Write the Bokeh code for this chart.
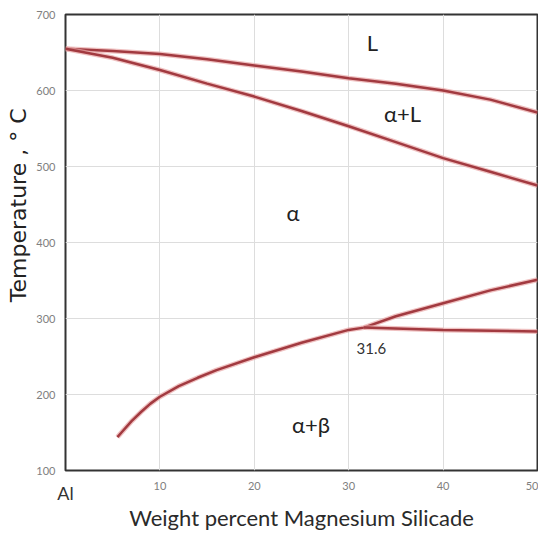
from bokeh.plotting import figure
from bokeh.models import Label, FixedTicker, Range1d, Title, LinearAxis
from bokeh.embed import file_html
from bokeh.resources import INLINE

# Data (Al - Mg2Si)
liquidus_x = [0, 5, 10, 15, 20, 25, 30, 35, 40, 45, 50]
liquidus_y = [655, 652, 648, 641, 633, 625, 616, 609, 600, 588, 571]

solidus_x = [0, 5, 10, 15, 20, 25, 30, 35, 40, 45, 50]
solidus_y = [655, 643, 627, 609, 592, 573, 553, 532, 511, 493, 475]

solvus_x = [5.5, 6, 7, 8, 9, 10, 12, 14, 16, 20, 25, 30, 31.6, 35, 40, 45, 50]
solvus_y = [144, 151, 165, 177, 188, 197, 211, 222, 232, 249, 268, 285, 288, 303, 320, 337, 351]

eutectic_x = [31.6, 40, 50]
eutectic_y = [288, 285, 283]

x_ticks = [10, 20, 30, 40, 50]
origin_tick = [0]
origin_label = {0: "Al"}
y_ticks = [100, 200, 300, 400, 500, 600, 700]

region_labels = ["L", "α+L", "α", "α+β"]
region_x = [32.5, 35.7, 24.1, 26.0]
region_y = [663, 570, 440, 160]

p = figure(width=538, height=533, output_backend="svg", toolbar_location=None,
           x_range=Range1d(0, 50), y_range=Range1d(100, 700),
           min_border_left=61, min_border_top=14, min_border_right=1, min_border_bottom=20)

p.outline_line_color = "#333333"
p.outline_line_width = 2

p.xgrid.ticker = FixedTicker(ticks=[10, 20, 30, 40])
p.ygrid.ticker = FixedTicker(ticks=[200, 300, 400, 500, 600])
p.xgrid.grid_line_color = "#dddddd"
p.ygrid.grid_line_color = "#dddddd"

for ax in (p.xaxis[0], p.yaxis[0]):
    ax.axis_line_color = None
    ax.major_tick_line_color = None
    ax.minor_tick_line_color = None
    ax.major_label_text_font = "Lato"
    ax.major_label_text_font_size = "11px"
    ax.major_label_text_color = "#808080"

p.xaxis.ticker = FixedTicker(ticks=x_ticks)
p.yaxis.ticker = FixedTicker(ticks=y_ticks)
p.xaxis.major_tick_out = 0
p.xaxis.major_tick_in = 0
p.xaxis.major_label_standoff = 11
p.yaxis.major_label_standoff = 4

# second bottom axis: the "Al" origin label and the axis title
al_axis = LinearAxis(ticker=FixedTicker(ticks=origin_tick), major_label_overrides=origin_label,
                     axis_line_color=None, major_tick_line_color=None, minor_tick_line_color=None,
                     major_tick_out=0, major_tick_in=0,
                     major_label_text_font="Lato", major_label_text_font_size="18px",
                     major_label_text_color="#333333", major_label_standoff=-11,
                     axis_label="Weight percent Magnesium Silicade", axis_label_text_font="Lato",
                     axis_label_text_font_style="normal", axis_label_text_font_size="22px",
                     axis_label_text_color="#2a2a2a", axis_label_standoff=-3)
p.add_layout(al_axis, "below")

p.add_layout(Title(text="Temperature , ° C", align="right", offset=94,
                   text_font="DejaVu Sans", text_font_size="22px",
                   text_font_style="normal", text_color="#222222", standoff=6), "left")

halo = "#e8a7a7"
core = "#a23a40"
for xs, ys in ((liquidus_x, liquidus_y), (solidus_x, solidus_y),
               (solvus_x, solvus_y), (eutectic_x, eutectic_y)):
    p.line(xs, ys, line_color=halo, line_width=5, line_alpha=0.7)
    p.line(xs, ys, line_color=core, line_width=2.5)

for t, x, y in zip(region_labels, region_x, region_y):
    p.add_layout(Label(x=x, y=y, text=t, text_font="Lato", text_font_size="22px",
                       text_color="#222222", text_align="center", text_baseline="middle"))

p.add_layout(Label(x=32.4, y=260, text="31.6", text_font="Lato", text_font_size="15px",
                   text_color="#333333", text_align="center", text_baseline="middle"))

open("out.html", "w").write(file_html(p, INLINE))
